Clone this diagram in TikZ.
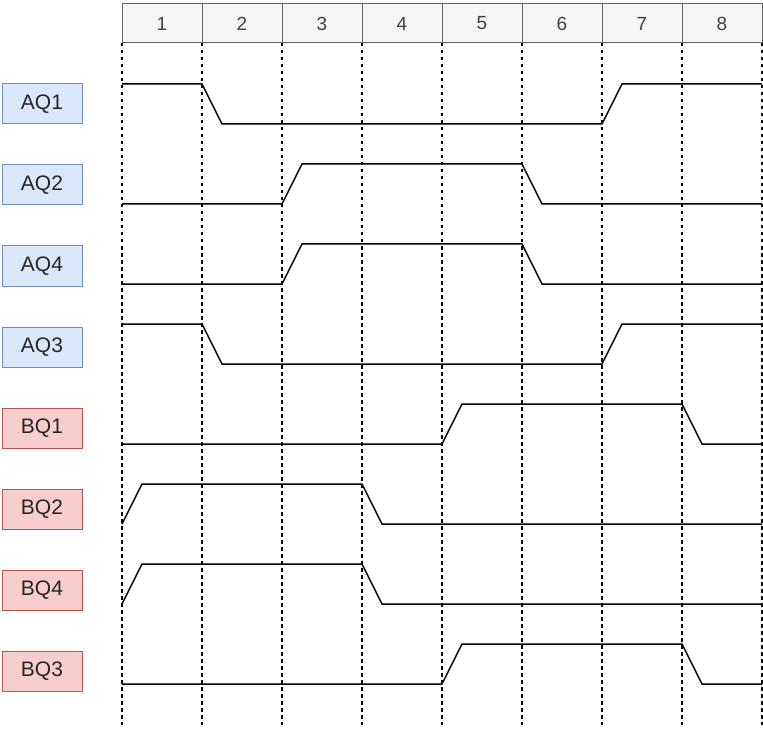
\documentclass[tikz,border=0pt]{standalone}
\usepackage{fontspec}
\setmainfont{Liberation Sans}
\usetikzlibrary{positioning}
\definecolor{bluefill}{HTML}{DAE8FC}
\definecolor{blueline}{HTML}{6C8EBF}
\definecolor{redfill}{HTML}{F8CECC}
\definecolor{redline}{HTML}{B85450}
\definecolor{headfill}{HTML}{F5F5F5}
\definecolor{headline}{HTML}{666666}
\tikzset{
head_cell/.style={rectangle, draw=headline, fill=headfill, text=black!75, minimum width=80pt, minimum height=39pt, inner sep=0pt, outer sep=0pt, line width=1pt, font=\fontsize{19}{21}\selectfont},
sig_a/.style={rectangle, draw=blueline, fill=bluefill, text=black!85, minimum width=80pt, minimum height=40pt, inner sep=0pt, line width=1pt, font=\fontsize{21}{23}\selectfont},
sig_b/.style={sig_a, draw=redline, fill=redfill},
grid_line/.style={dash pattern=on 3.5pt off 3.5pt, line width=1.3pt},
wave/.style={line width=1.5pt, line join=miter}
}
\begin{document}
\begin{tikzpicture}[x=1pt, y=-1pt]
    \useasboundingbox (0,0) rectangle (763,730);
    % clock header
    \node[head_cell] (h1) at (162,23.5) {1};
    \foreach \i [count=\j from 2] in {1,...,7}
        \node[head_cell] (h\j) [right=0 of h\i] {\j};
    \foreach \i in {1,...,8}
        \draw[grid_line] (h\i.south west) -- ++(0,682);
    \draw[grid_line] (h8.south east) -- ++(0,682);
    % signal names
    \node[sig_a] (AQ1) at (42,104) {AQ1};
    \node[sig_a] (AQ2) [below=40pt of AQ1] {AQ2};
    \node[sig_a] (AQ4) [below=40pt of AQ2] {AQ4};
    \node[sig_a] (AQ3) [below=40pt of AQ4] {AQ3};
    \node[sig_b] (BQ1) [below=40pt of AQ3] {BQ1};
    \node[sig_b] (BQ2) [below=40pt of BQ1] {BQ2};
    \node[sig_b] (BQ4) [below=40pt of BQ2] {BQ4};
    \node[sig_b] (BQ3) [below=40pt of BQ4] {BQ3};
    % waveforms
    \draw[wave] (122,84) -- (202,84) -- (222,124) -- (602,124) -- (622,84) -- (762,84);
    \draw[wave] (122,204) -- (282,204) -- (302,164) -- (522,164) -- (542,204) -- (762,204);
    \draw[wave] (122,284) -- (282,284) -- (302,244) -- (522,244) -- (542,284) -- (762,284);
    \draw[wave] (122,324) -- (202,324) -- (222,364) -- (602,364) -- (622,324) -- (762,324);
    \draw[wave] (122,444) -- (442,444) -- (462,404) -- (682,404) -- (702,444) -- (762,444);
    \draw[wave] (122,524) -- (142,484) -- (362,484) -- (382,524) -- (762,524);
    \draw[wave] (122,604) -- (142,564) -- (362,564) -- (382,604) -- (762,604);
    \draw[wave] (122,684) -- (442,684) -- (462,644) -- (682,644) -- (702,684) -- (762,684);
\end{tikzpicture}
\end{document}
